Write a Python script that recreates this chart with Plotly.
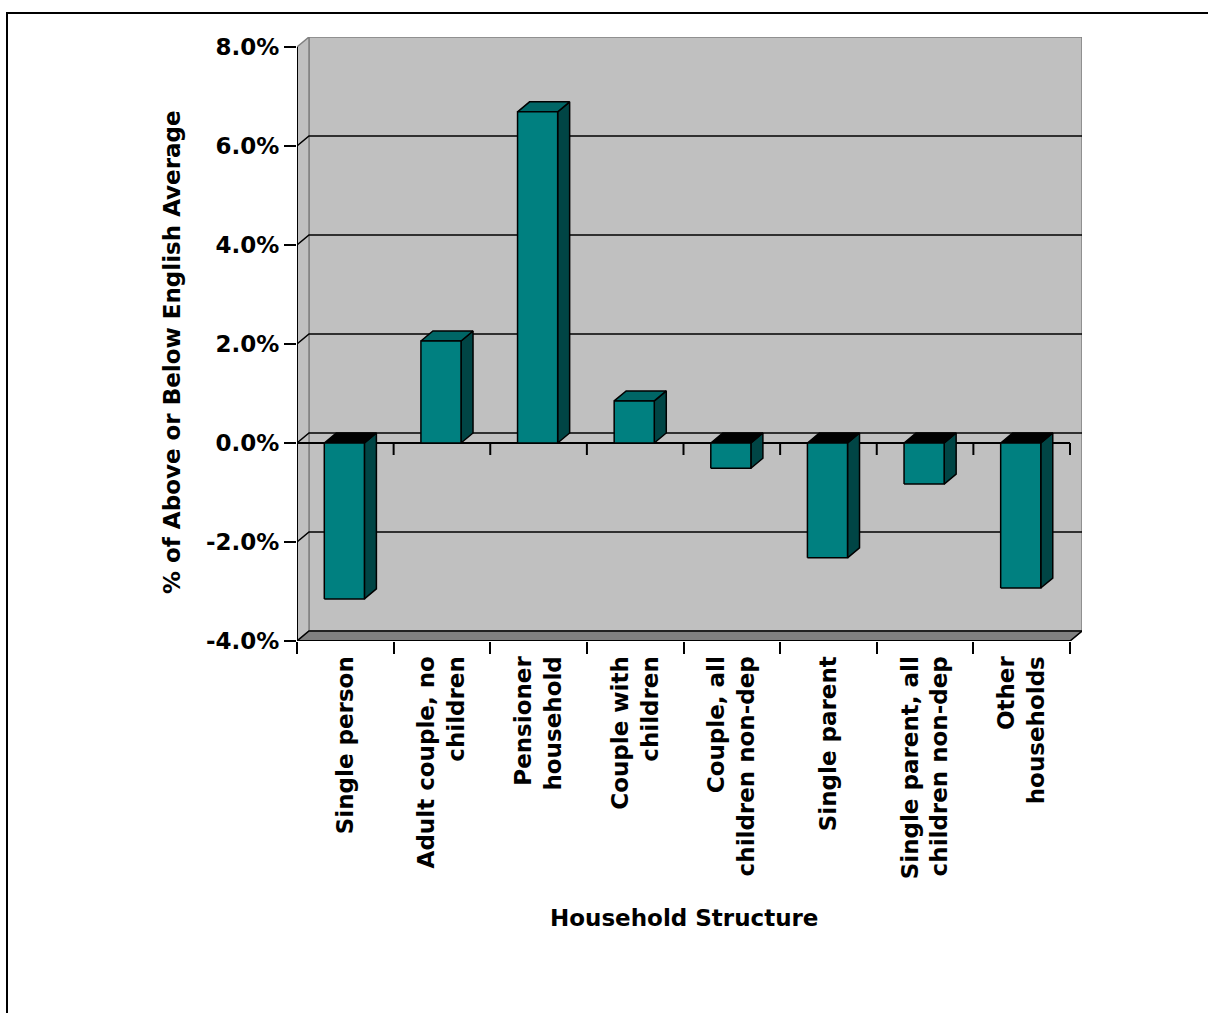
import plotly.graph_objects as go

# ---------------- data ----------------
categories = ["Single person", "Adult couple, no<br>children", "Pensioner<br>household",
              "Couple with<br>children", "Couple, all<br>children non-dep", "Single parent",
              "Single parent, all<br>children non-dep", "Other<br>households"]
values = [-0.0315, 0.0206, 0.0669, 0.0085, -0.0051, -0.0232, -0.0083, -0.0293]
y_ticks = [-0.04, -0.02, 0.0, 0.02, 0.04, 0.06, 0.08]
y_ticktext = [f"{v*100:.1f}%" for v in y_ticks]
y_title = "% of Above or Below English Average"
x_title = "Household Structure"

# ---------------- geometry ----------------
W, H = 1208, 1013
L, R, T, B = 297, 126, 37, 372
plot_w = W - L - R
plot_h = H - T - B
n = len(categories)
px_per_x = 773 / n          # front category axis length in px
px_per_y = 594 / 0.12       # front value axis length in px
DX = 12 / px_per_x          # depth offset (x units)
DY = 10 / px_per_y          # depth offset (y units)
XMAX = plot_w / px_per_x
YMIN = y_ticks[0]
YMAX = YMIN + plot_h / px_per_y
TICK_Y = 12 / px_per_y

FONT = "DejaVu Sans"
BAR_W = 0.415
BAR_OFF = 0.49

fig = go.Figure()


def poly(xs, ys, fill, line_color, lw=1.5, xaxis="x"):
    fig.add_trace(go.Scatter(x=xs, y=ys, mode="lines", fill="toself", fillcolor=fill,
                             line=dict(color=line_color, width=lw), hoverinfo="skip",
                             showlegend=False, xaxis=xaxis))


def lines(xs, ys, color="black", lw=1.5):
    fig.add_trace(go.Scatter(x=xs, y=ys, mode="lines", line=dict(color=color, width=lw),
                             hoverinfo="skip", showlegend=False, connectgaps=False))


y0, y1 = y_ticks[0], y_ticks[-1]
# back wall
poly([DX, n + DX, n + DX, DX, DX], [y0 + DY, y0 + DY, y1 + DY, y1 + DY, y0 + DY], "#c0c0c0", "#808080")
# left wall
poly([0, DX, DX, 0, 0], [y0, y0 + DY, y1 + DY, y1, y0], "#c0c0c0", "#808080")
# floor
poly([0, n, n + DX, DX, 0], [y0, y0, y0 + DY, y0 + DY, y0], "#808080", "#808080")

# gridlines (back wall + left wall diagonal)
gx, gy = [], []
for t in y_ticks[:-1]:
    gx += [0, DX, n + DX, None]
    gy += [t, t + DY, t + DY, None]
lines(gx, gy, "black", 1.5)

# front edges: bottom edge, zero line with ticks
fx, fy = [0, n, None, 0, n, None], [y0, y0, None, 0, 0, None]
for i in range(n + 1):
    fx += [i, i, None]
    fy += [0, -TICK_Y, None]
lines(fx, fy, "black", 2)
# right floor edge
lines([n, n + DX], [y0, y0 + DY], "black", 1.5)

# value axis line
lines([0, 0], [y0, y1], "black", 2)

# bars
fx, fy, sx, sy, tpx, tpy, tnx, tny = [], [], [], [], [], [], [], []
for i, v in enumerate(values):
    a = i + BAR_OFF - BAR_W / 2
    b = i + BAR_OFF + BAR_W / 2
    lo, hi = min(v, 0), max(v, 0)
    fx += [a, b, b, a, a, None]
    fy += [lo, lo, hi, hi, lo, None]
    sx += [b, b + DX, b + DX, b, b, None]
    sy += [lo, lo + DY, hi + DY, hi, lo, None]
    tx = [a, b, b + DX, a + DX, a, None]
    ty = [hi, hi, hi + DY, hi + DY, hi, None]
    if v >= 0:
        tpx += tx; tpy += ty
    else:
        tnx += tx; tny += ty
poly(sx, sy, "#004545", "black")
poly(tpx, tpy, "#006666", "black")
poly(tnx, tny, "#000000", "black")
poly(fx, fy, "#008080", "black")

# invisible trace to activate label axis
fig.add_trace(go.Scatter(x=[0.5], y=[0], mode="markers", marker=dict(opacity=0),
                         hoverinfo="skip", showlegend=False, xaxis="x2"))

bold = dict(family=FONT, size=23, color="black", weight="bold")
tickbold = dict(family=FONT, size=23, color="black", weight="bold")

fig.update_layout(
    width=W, height=H,
    margin=dict(l=L, r=R, t=T, b=B),
    paper_bgcolor="white", plot_bgcolor="white",
    showlegend=False,
    xaxis=dict(range=[0, XMAX], showgrid=False, zeroline=False, showline=False,
               tickvals=list(range(n + 1)), ticks="outside", ticklen=12, tickwidth=2,
               tickcolor="black", showticklabels=False, fixedrange=True),
    xaxis2=dict(range=[0, XMAX], overlaying="x", anchor="y", side="bottom",
                showgrid=False, zeroline=False, showline=False,
                tickvals=[i + 0.5 for i in range(n)], ticktext=categories,
                ticks="outside", ticklen=5, tickcolor="rgba(0,0,0,0)",
                tickangle=-90, tickfont=tickbold),
    yaxis=dict(range=[YMIN, YMAX], showgrid=False, zeroline=False, showline=False,
               tickvals=y_ticks, ticktext=y_ticktext, ticks="outside", ticklen=12,
               tickwidth=2, tickcolor="black", tickfont=tickbold),
    annotations=[
        dict(text=y_title, xref="paper", yref="paper",
             x=(172 - L) / plot_w, y=1 - (352 - T) / plot_h, textangle=-90,
             showarrow=False, font=bold, xanchor="center", yanchor="middle"),
        dict(text=x_title, xref="paper", yref="paper",
             x=(684 - L) / plot_w, y=1 - (918 - T) / plot_h,
             showarrow=False, font=bold, xanchor="center", yanchor="middle"),
    ],
    shapes=[dict(type="rect", xref="paper", yref="paper",
                 x0=(7 - L) / plot_w, x1=(1300 - L) / plot_w,
                 y0=1 - (1100 - T) / plot_h, y1=1 + (T - 13) / plot_h,
                 line=dict(color="black", width=2), fillcolor="rgba(0,0,0,0)", layer="below")],
)

fig.write_html("out.html")
